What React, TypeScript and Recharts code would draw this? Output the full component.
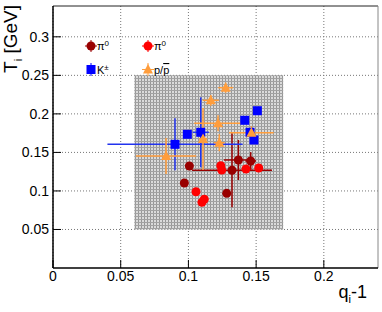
import {
  CartesianGrid,
  ErrorBar,
  Legend,
  ReferenceArea,
  ReferenceLine,
  Scatter,
  ScatterChart,
  XAxis,
  YAxis,
} from 'recharts';

const X_TICKS = [0, 0.05, 0.1, 0.15, 0.2];
const Y_TICKS = [0.05, 0.1, 0.15, 0.2, 0.25, 0.3];

// pi0, first set (dark red)
const pi0aX = [0.1007, 0.097, 0.1283, 0.1322, 0.1369, 0.146];
const pi0aY = [0.1324, 0.1103, 0.0969, 0.1268, 0.1402, 0.1389];
const pi0aXe = [0, 0, 0, 0.0295, 0.0107, 0.004];
const pi0aYe = [0, 0, 0, 0.048, 0.026, 0.0115];

// pi0, second set (red)
const pi0bX = [0.1239, 0.1246, 0.1425, 0.1519, 0.1056, 0.1117, 0.11];
const pi0bY = [0.1328, 0.1272, 0.1285, 0.1298, 0.099, 0.0892, 0.0853];
const pi0bXe = [0, 0, 0, 0, 0, 0, 0];
const pi0bYe = [0, 0, 0, 0, 0, 0, 0];

// K+-
const kX = [0.0901, 0.0992, 0.1091, 0.1416, 0.1509, 0.1455, 0.1484];
const kY = [0.1605, 0.1735, 0.1761, 0.1917, 0.2041, 0.1761, 0.1661];
const kXe = [0.0499, 0, 0.006, 0, 0, 0, 0];
const kYe = [0.0337, 0, 0.0454, 0, 0, 0, 0];

// p / pbar
const pX = [0.1275, 0.1165, 0.1219, 0.1108, 0.1228, 0.1465, 0.0835];
const pY = [0.234, 0.2176, 0.1878, 0.1674, 0.1626, 0.1756, 0.1453];
const pXe = [0.0055, 0.006, 0.0177, 0.003, 0.004, 0.0165, 0.0222];
const pYe = [0.0065, 0.007, 0.0104, 0.0402, 0.011, 0.0085, 0.0234];

// systematic band
const BAND_X = [0.06, 0.17];
const BAND_Y = [0.05, 0.25];

const rows = (xs: number[], ys: number[], xe: number[], ye: number[]) =>
  xs.map((x, i) => ({ x, y: ys[i], xe: xe[i], ye: ye[i] }));

const DARK_RED = '#990000';
const RED = '#ff0000';
const BLUE = '#0000ff';
const ORANGE = '#ff9d3c';
const FONT = '"Liberation Sans", Arial, sans-serif';

const circle = (color: string) => (p: any) => <circle cx={p.cx} cy={p.cy} r={4.5} fill={color} />;
const square = (color: string) => (p: any) => (
  <rect x={p.cx - 4.5} y={p.cy - 4.5} width={9} height={9} fill={color} />
);
const triangle = (color: string) => (p: any) => (
  <polygon points={`${p.cx},${p.cy - 5.5} ${p.cx - 5},${p.cy + 4} ${p.cx + 5},${p.cy + 4}`} fill={color} />
);

const XTick = ({ x, y, payload }: any) => (
  <g>
    <line x1={x} y1={y} x2={x} y2={y - 8} stroke="#000" />
    <text x={x} y={y + 13} textAnchor="middle" fontSize={14} fill="#000" fontFamily={FONT}>
      {String(payload.value)}
    </text>
  </g>
);

const YTick = ({ x, y, payload }: any) => (
  <g>
    <line x1={x} y1={y} x2={x + 8} y2={y} stroke="#000" />
    <text x={x - 4} y={y + 5} textAnchor="end" fontSize={14} fill="#000" fontFamily={FONT}>
      {String(payload.value)}
    </text>
  </g>
);

function LegendBox() {
  const t = { fontSize: 11, fontFamily: FONT, fill: '#000' };
  return (
    <svg width={110} height={48}>
      <line x1={5} y1={13} x2={17} y2={13} stroke={DARK_RED} />
      <line x1={11} y1={7} x2={11} y2={19} stroke={DARK_RED} />
      <circle cx={11} cy={13} r={4.5} fill={DARK_RED} />
      <text x={17} y={17} {...t}>π<tspan dy={-4} fontSize={8}>0</tspan></text>

      <line x1={62} y1={13} x2={74} y2={13} stroke={RED} />
      <line x1={68} y1={7} x2={68} y2={19} stroke={RED} />
      <circle cx={68} cy={13} r={4.5} fill={RED} />
      <text x={74} y={17} {...t}>π<tspan dy={-4} fontSize={8}>0</tspan></text>

      <line x1={11} y1={30} x2={11} y2={43} stroke={BLUE} />
      <rect x={6.5} y={32} width={9} height={9} fill={BLUE} />
      <text x={17} y={41} {...t}>K<tspan dy={-4} fontSize={8}>±</tspan></text>

      <line x1={62} y1={36.5} x2={74} y2={36.5} stroke={ORANGE} />
      <line x1={68} y1={30} x2={68} y2={43} stroke={ORANGE} />
      <polygon points="68,31 63,40.5 73,40.5" fill={ORANGE} />
      <text x={74} y={41} {...t}>p/<tspan textDecoration="overline">p</tspan></text>
    </svg>
  );
}

export default function App() {
  return (
    <div style={{ position: 'absolute', left: 0, top: 0, width: 382, height: 312, background: '#fff' }}>
      <svg width={0} height={0} style={{ position: 'absolute' }}>
        <defs>
          <pattern id="band" width={3} height={3} patternUnits="userSpaceOnUse">
            <rect width={3} height={3} fill="#c6c6c6" />
            <rect width={1} height={3} fill="#8e8e8e" />
            <rect width={3} height={1} fill="#9a9a9a" />
            <rect x={1} y={1} width={2} height={2} fill="#d8d8d8" />
          </pattern>
        </defs>
      </svg>
      <ScatterChart width={382} height={312} margin={{ top: 6, right: 4, left: 0, bottom: 0 }}>
        <CartesianGrid
          horizontal
          vertical
          stroke="#777"
          strokeDasharray="1 2"
          horizontalValues={Y_TICKS}
          verticalValues={X_TICKS}
        />
        <ReferenceArea
          x1={BAND_X[0]}
          x2={BAND_X[1]}
          y1={BAND_Y[0]}
          y2={BAND_Y[1]}
          fill="url(#band)"
          fillOpacity={0.92}
          stroke="none"
        />
        <XAxis
          type="number"
          dataKey="x"
          domain={[0, 0.24]}
          ticks={X_TICKS}
          height={44}
          tickSize={0}
          tickMargin={0}
          tick={<XTick />}
          axisLine={{ stroke: '#000', strokeWidth: 1.5 }}
          allowDataOverflow
          label={{
            content: () => (
              <text x={367} y={298} textAnchor="end" fontSize={18} fontFamily={FONT} fill="#000">
                q<tspan dy={5} fontSize={11}>i</tspan>
                <tspan dy={-5}>-1</tspan>
              </text>
            ),
          }}
        />
        <YAxis
          type="number"
          dataKey="y"
          domain={[0, 0.34]}
          ticks={Y_TICKS}
          width={53}
          tickSize={0}
          tickMargin={0}
          tick={<YTick />}
          axisLine={{ stroke: '#000', strokeWidth: 1.5 }}
          allowDataOverflow
          label={{
            content: () => (
              <text
                transform="translate(17,5) rotate(-90)"
                textAnchor="end"
                fontSize={19}
                fontFamily={FONT}
                fill="#000"
              >
                T<tspan dy={5} fontSize={11}>i</tspan>
                <tspan dy={-5}> [GeV]</tspan>
              </text>
            ),
          }}
        />
        <ReferenceLine y={0.34} stroke="#222" />
        <ReferenceLine x={0.24} stroke="#888" />
        <Legend
          layout="vertical"
          align="center"
          verticalAlign="middle"
          wrapperStyle={{ position: 'absolute', left: 80, top: 33, width: 110, height: 48 }}
          content={() => <LegendBox />}
        />
        <Scatter name="π0 a" data={rows(pi0aX, pi0aY, pi0aXe, pi0aYe)} shape={circle(DARK_RED)} isAnimationActive={false}>
          <ErrorBar dataKey="xe" direction="x" width={0} stroke={DARK_RED} strokeWidth={1.5} />
          <ErrorBar dataKey="ye" direction="y" width={0} stroke={DARK_RED} strokeWidth={1.5} />
        </Scatter>
        <Scatter name="π0 b" data={rows(pi0bX, pi0bY, pi0bXe, pi0bYe)} shape={circle(RED)} isAnimationActive={false}>
          <ErrorBar dataKey="xe" direction="x" width={0} stroke={RED} strokeWidth={1.5} />
          <ErrorBar dataKey="ye" direction="y" width={0} stroke={RED} strokeWidth={1.5} />
        </Scatter>
        <Scatter name="K" data={rows(kX, kY, kXe, kYe)} shape={square(BLUE)} isAnimationActive={false}>
          <ErrorBar dataKey="xe" direction="x" width={0} stroke="#2233ee" strokeWidth={1.5} />
          <ErrorBar dataKey="ye" direction="y" width={0} stroke="#2233ee" strokeWidth={1.5} />
        </Scatter>
        <Scatter name="p" data={rows(pX, pY, pXe, pYe)} shape={triangle(ORANGE)} isAnimationActive={false}>
          <ErrorBar dataKey="xe" direction="x" width={0} stroke={ORANGE} strokeWidth={1.5} />
          <ErrorBar dataKey="ye" direction="y" width={0} stroke={ORANGE} strokeWidth={1.5} />
        </Scatter>
      </ScatterChart>
    </div>
  );
}
